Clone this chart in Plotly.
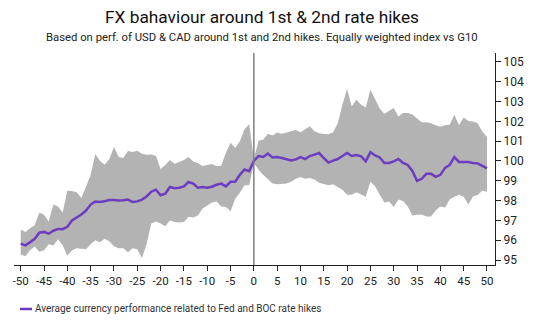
import plotly.graph_objects as go

days = list(range(-50, 51))

mean_perf = [95.83, 95.74, 95.90, 96.07, 96.38, 96.42, 96.33, 96.48, 96.57, 96.56,
             96.68, 97.00, 97.15, 97.30, 97.50, 97.80, 97.95, 97.93, 97.97, 98.03,
             98.03, 98.00, 98.02, 98.05, 97.93, 97.96, 98.05, 98.21, 98.45, 98.55,
             98.27, 98.35, 98.69, 98.62, 98.65, 98.72, 98.94, 98.86, 98.65, 98.68,
             98.65, 98.70, 98.80, 98.86, 98.72, 98.95, 98.95, 99.30, 99.57, 99.48,
             100.00,
             100.25, 100.20, 100.37, 100.18, 100.20, 100.15, 100.08, 100.03, 100.08, 100.20,
             100.10, 100.25, 100.32, 100.40, 100.15, 99.92, 100.02, 100.10, 100.25, 100.40,
             100.25, 100.30, 100.23, 99.98, 100.45, 100.28, 100.18, 99.90, 99.90, 99.98,
             100.10, 99.90, 99.80, 99.50, 99.00, 99.10, 99.35, 99.35, 99.20, 99.30,
             99.65, 99.80, 100.20, 99.95, 99.95, 99.95, 99.90, 99.88, 99.75, 99.63]

upper_band = [96.54, 96.42, 96.60, 96.75, 97.40, 97.29, 96.95, 97.80, 97.70, 97.40,
              98.50, 98.48, 98.42, 98.13, 98.70, 99.30, 100.35, 100.00, 99.81, 100.10,
              100.70, 100.20, 100.15, 100.50, 100.45, 100.52, 100.37, 100.32, 100.33, 100.25,
              99.60, 99.80, 100.05, 99.86, 99.95, 100.05, 100.20, 99.98, 99.90, 99.75,
              99.80, 99.85, 99.73, 99.76, 100.40, 100.92, 100.66, 100.99, 101.60, 101.85,
              100.10,
              101.02, 101.07, 101.38, 101.28, 101.44, 101.38, 101.45, 101.52, 101.56, 101.45,
              101.60, 101.75, 101.50, 101.40, 101.36, 101.35, 101.45, 101.90, 102.85, 103.63,
              102.75, 103.10, 102.84, 102.70, 103.60, 103.15, 102.65, 102.38, 102.52, 102.67,
              102.25, 102.42, 102.42, 102.35, 102.15, 101.95, 101.95, 101.90, 101.80, 101.73,
              101.80, 101.83, 102.33, 101.80, 102.20, 102.02, 101.99, 101.90, 101.49, 101.21]

lower_band = [95.28, 95.19, 95.50, 95.69, 95.42, 95.49, 95.80, 95.73, 96.05, 95.75,
              95.22, 95.50, 95.60, 95.57, 95.55, 95.80, 96.00, 95.90, 96.08, 95.95,
              95.70, 95.60, 95.60, 95.39, 95.60, 95.55, 95.10, 95.80, 96.85, 96.95,
              96.85, 96.70, 96.99, 96.92, 96.90, 96.92, 97.18, 97.15, 97.25, 97.60,
              97.73, 97.90, 97.95, 97.70, 97.68, 97.46, 98.10, 98.40, 98.78, 98.78,
              99.90,
              99.56, 99.31, 99.06, 98.86, 98.82, 98.83, 98.86, 98.95, 99.10, 99.19,
              99.10, 99.14, 99.06, 98.90, 98.85, 98.78, 98.82, 98.70, 98.55, 98.30,
              98.30, 98.42, 98.30, 98.20, 98.95, 98.72, 98.30, 97.90, 97.96, 97.68,
              98.05, 97.98, 97.70, 97.25, 97.28, 97.30, 97.20, 97.20, 97.50, 97.70,
              97.65, 98.06, 98.20, 98.30, 98.20, 97.80, 98.21, 98.28, 98.50, 98.45]

x_ticks = list(range(-50, 51, 5))
x_tick_labels = [str(v) for v in x_ticks]
y_ticks = list(range(95, 106))

title_text = "FX bahaviour around 1st &amp; 2nd rate hikes"
subtitle_text = "Based on perf. of USD &amp; CAD around 1st and 2nd hikes. Equally weighted index vs G10"
legend_text = "Average currency performance related to Fed and BOC rate hikes"

FONT = "Roboto"
BAND = "#b3b3b3"
PURPLE = "#6a3dc1"

fig = go.Figure()
fig.add_trace(go.Scatter(x=days, y=lower_band, mode="lines", line=dict(width=0, color=BAND),
                         showlegend=False, hoverinfo="skip"))
fig.add_trace(go.Scatter(x=days, y=upper_band, mode="lines", line=dict(width=0, color=BAND),
                         fill="tonexty", fillcolor=BAND, showlegend=False, hoverinfo="skip"))
fig.add_trace(go.Scatter(x=days, y=mean_perf, mode="lines", line=dict(width=2.5, color=PURPLE),
                         name=legend_text, showlegend=False))

# vertical line at day 0
fig.add_shape(type="line", xref="x", yref="paper", x0=0, x1=0, y0=0, y1=1,
              line=dict(color="#7f7f7f", width=1.5))

# legend (manual)
fig.add_shape(type="line", xref="paper", yref="paper", x0=0.0125, x1=0.0374, y0=-0.2075, y1=-0.2075,
              line=dict(color=PURPLE, width=2.5))
fig.add_annotation(text=legend_text, xref="paper", yref="paper", x=0.039, y=-0.2075,
                   xanchor="left", yanchor="middle", showarrow=False,
                   font=dict(family=FONT, size=10, color="#333333"))

fig.add_annotation(text=title_text, xref="paper", yref="paper", x=0.5156, y=1.170,
                   xanchor="center", yanchor="middle", showarrow=False,
                   font=dict(family=FONT, size=17.3, color="#111111"))
fig.add_annotation(text=subtitle_text, xref="paper", yref="paper", x=0.5156, y=1.075,
                   xanchor="center", yanchor="middle", showarrow=False,
                   font=dict(family=FONT, size=11.3, color="#222222"))

fig.update_layout(
    width=539, height=321,
    margin=dict(l=14, r=44, t=53, b=56),
    paper_bgcolor="white", plot_bgcolor="white",
    font=dict(family=FONT, size=11, color="#222222"),
    xaxis=dict(range=[-51.44, 51.72], tickvals=x_ticks, ticktext=x_tick_labels, ticks="outside",
               ticklen=5, tickcolor="#222222", showline=True, linecolor="#222222", linewidth=1,
               showgrid=False, zeroline=False, tickfont=dict(size=11.5)),
    yaxis=dict(range=[94.75, 105.45], tickvals=y_ticks, side="right", ticks="outside",
               ticklen=5, tickcolor="#222222", showline=True, linecolor="#222222", linewidth=1,
               showgrid=False, zeroline=False, tickfont=dict(size=12)),
    showlegend=False,
)

fig.write_html("out.html")
